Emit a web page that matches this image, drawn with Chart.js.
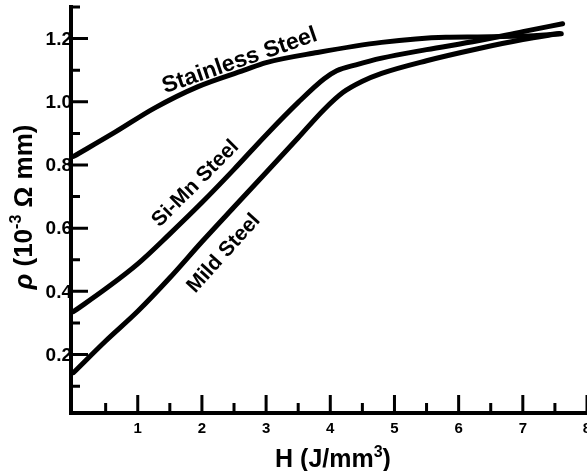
<!DOCTYPE html>
<html>
<head>
<meta charset="utf-8">
<script src="https://cdn.jsdelivr.net/npm/chart.js@4.4.0/dist/chart.umd.min.js"></script>
<style>
  html, body { margin: 0; padding: 0; background: #fff; }
</style>
</head>
<body>
<canvas id="rho" width="587" height="471"></canvas>
<script>
// ---- data: resistivity rho (10^-3 ohm mm) vs heat input H (J/mm^3) ----
const stainlessH   = [0, 0.64, 1.26, 1.94, 2.66, 3.0, 3.8, 4.8, 5.8, 6.3, 7.0, 7.6];
const stainlessRho = [0.827, 0.903, 0.98, 1.048, 1.10, 1.124, 1.156, 1.188, 1.204, 1.205, 1.208, 1.215];

const siMnH   = [0, 0.5, 1.0, 1.5, 2.0, 2.5, 3.0, 3.5, 3.9, 4.1, 4.4, 4.8, 5.5, 6.3, 7.0, 7.62];
const siMnRho = [0.336, 0.408, 0.487, 0.582, 0.681, 0.786, 0.895, 0.998, 1.072, 1.098, 1.117, 1.138, 1.165, 1.193, 1.222, 1.247];

const mildH   = [0, 0.5, 1.0, 1.5, 2.0, 2.5, 3.0, 3.5, 3.9, 4.2, 4.5, 4.8, 5.5, 6.3, 7.0, 7.57];
const mildRho = [0.143, 0.243, 0.337, 0.443, 0.557, 0.667, 0.776, 0.886, 0.975, 1.03, 1.065, 1.09, 1.13, 1.168, 1.197, 1.216];

// axis ticks
const xMajor = [1, 2, 3, 4, 5, 6, 7, 8];
const xMinor = [0.5, 1.5, 2.5, 3.5, 4.5, 5.5, 6.5, 7.5];
const yMajor = [0.2, 0.4, 0.6, 0.8, 1.0, 1.2];
const yMinor = [0.1, 0.3, 0.5, 0.7, 0.9, 1.1, 1.3];
const yTickText = ['0.2', '0.4', '0.6', '0.8', '1.0', '1.2'];

// inline curve names, anchored in data units
const curveNames   = ['Stainless Steel', 'Si-Mn Steel', 'Mild Steel'];
const curveNameH   = [2.59, 1.90, 2.34];
const curveNameRho = [1.130, 0.741, 0.520];
const curveNameRot = [-19, -45, -48];

const FONT = '"Liberation Sans", Arial, sans-serif';

function pts(xs, ys) { return xs.map((x, i) => ({ x: x, y: ys[i] })); }

function line(data) {
  return {
    data: data,
    showLine: true,
    borderColor: '#000',
    borderWidth: 5,
    pointRadius: 0,
    fill: false,
    cubicInterpolationMode: 'monotone',
    borderCapStyle: 'round',
    borderJoinStyle: 'round'
  };
}

// text with raised parts: pieces = [[text, isSup, extraStyle], ...]
function drawPieces(ctx, pieces, size, cx, cy) {
  const supSize = Math.round(size * 0.62);
  let total = 0;
  pieces.forEach(p => {
    ctx.font = (p[2] || '') + 'bold ' + (p[1] ? supSize : size) + 'px ' + FONT;
    total += ctx.measureText(p[0]).width;
  });
  let x = cx - total / 2;
  ctx.textAlign = 'left';
  ctx.textBaseline = 'alphabetic';
  pieces.forEach(p => {
    ctx.font = (p[2] || '') + 'bold ' + (p[1] ? supSize : size) + 'px ' + FONT;
    ctx.fillText(p[0], x, cy + (p[1] ? -size * 0.42 : 0));
    x += ctx.measureText(p[0]).width;
  });
}

const axesPlugin = {
  id: 'axesPlugin',
  afterDraw(chart) {
    const ctx = chart.ctx;
    const xs = chart.scales.x, ys = chart.scales.y;
    const area = chart.chartArea;
    const x0 = xs.getPixelForValue(xs.min);
    const y0 = ys.getPixelForValue(ys.min);
    ctx.save();
    ctx.strokeStyle = '#000';
    ctx.fillStyle = '#000';

    // axis lines
    ctx.lineWidth = 4;
    ctx.lineCap = 'square';
    ctx.beginPath();
    ctx.moveTo(x0, area.top);
    ctx.lineTo(x0, y0);
    ctx.lineTo(area.right, y0);
    ctx.stroke();

    // inward ticks
    ctx.lineWidth = 3;
    ctx.lineCap = 'butt';
    ctx.beginPath();
    yMajor.forEach(v => { const p = ys.getPixelForValue(v); ctx.moveTo(x0, p); ctx.lineTo(x0 + 17, p); });
    yMinor.forEach(v => { const p = ys.getPixelForValue(v); ctx.moveTo(x0, p); ctx.lineTo(x0 + 9, p); });
    xMajor.forEach(v => { const p = xs.getPixelForValue(v); ctx.moveTo(p, y0); ctx.lineTo(p, y0 - 18); });
    xMinor.forEach(v => { const p = xs.getPixelForValue(v); ctx.moveTo(p, y0); ctx.lineTo(p, y0 - 10); });
    ctx.stroke();

    // tick labels
    ctx.font = 'bold 19px ' + FONT;
    ctx.textAlign = 'right';
    ctx.textBaseline = 'middle';
    yMajor.forEach((v, i) => ctx.fillText(yTickText[i], x0 + 1, ys.getPixelForValue(v) + 1));
    ctx.font = 'bold 15px ' + FONT;
    ctx.textAlign = 'center';
    xMajor.forEach(v => ctx.fillText(String(v), xs.getPixelForValue(v), y0 + 16));

    // axis titles
    drawPieces(ctx, [['H (J/mm', false], ['3', true], [')', false]], 25, 333, 467);
    ctx.save();
    ctx.translate(32, 207);
    ctx.rotate(-Math.PI / 2);
    drawPieces(ctx, [['\u03C1', false, 'italic '], [' (10', false], ['-3', true], [' \u03A9 mm)', false]], 26, 0, 0);
    ctx.restore();

    // curve names along the lines
    ctx.textAlign = 'center';
    ctx.textBaseline = 'middle';
    curveNames.forEach((t, i) => {
      ctx.save();
      ctx.font = 'bold ' + (i === 0 ? 23 : 21) + 'px ' + FONT;
      ctx.translate(xs.getPixelForValue(curveNameH[i]), ys.getPixelForValue(curveNameRho[i]));
      ctx.rotate(curveNameRot[i] * Math.PI / 180);
      ctx.fillText(t, 0, 0);
      ctx.restore();
    });
    ctx.restore();
  }
};

new Chart(document.getElementById('rho'), {
  type: 'scatter',
  data: {
    datasets: [
      line(pts(stainlessH, stainlessRho)),
      line(pts(siMnH, siMnRho)),
      line(pts(mildH, mildRho))
    ]
  },
  options: {
    responsive: false,
    animation: false,
    layout: { padding: { left: 71, right: 0, top: 7, bottom: 58 } },
    plugins: { legend: { display: false }, tooltip: { enabled: false } },
    scales: {
      x: { type: 'linear', min: -0.04, max: 8, display: false },
      y: { type: 'linear', min: 0.015, max: 1.3, display: false }
    }
  },
  plugins: [axesPlugin]
});
</script>
</body>
</html>
